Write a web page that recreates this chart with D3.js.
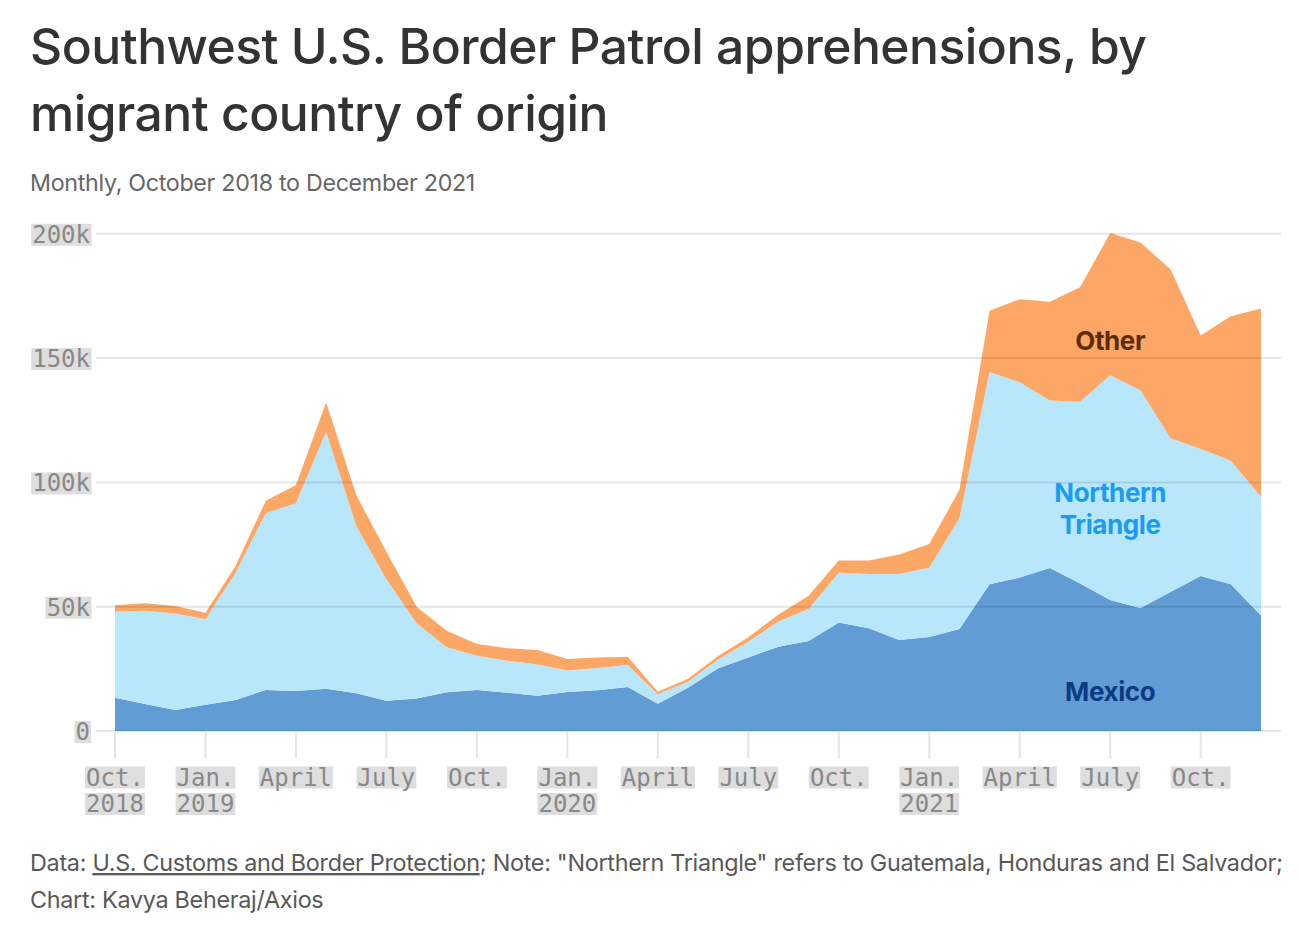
<!DOCTYPE html>
<html>
<head>
<meta charset="utf-8">
<script src="https://cdn.jsdelivr.net/npm/d3@7"></script>
<style>
  html, body { margin: 0; padding: 0; background: #fff; }
  svg { display: block; }
</style>
</head>
<body>
<svg id="chart" width="1298" height="946"></svg>
<script>
// ---------- DATA (thousands of apprehensions) ----------
const months = [
  "2018-10","2018-11","2018-12","2019-01","2019-02","2019-03","2019-04","2019-05","2019-06","2019-07","2019-08","2019-09",
  "2019-10","2019-11","2019-12","2020-01","2020-02","2020-03","2020-04","2020-05","2020-06","2020-07","2020-08","2020-09",
  "2020-10","2020-11","2020-12","2021-01","2021-02","2021-03","2021-04","2021-05","2021-06","2021-07","2021-08","2021-09",
  "2021-10","2021-11","2021-12"
];
const mexico = [13.4,10.9,8.4,10.6,12.5,16.5,16.1,17.0,15.2,12.2,13.1,15.6,
  16.5,15.4,14.2,15.7,16.4,17.7,11.0,17.4,25.2,29.6,33.9,36.2,
  43.6,41.3,36.6,37.8,41.0,59.0,61.7,65.6,59.3,52.7,49.5,55.9,
  62.3,59.0,46.5];
const northernTriangle = [34.6,37.5,38.9,34.4,51.2,71.1,75.5,103.4,67.3,48.8,30.2,18.1,
  13.8,12.9,12.6,8.6,8.9,8.8,3.8,2.4,3.6,6.3,10.1,12.9,
  20.1,21.9,26.6,27.9,44.6,85.4,78.6,67.3,73.1,90.4,87.6,61.9,
  51.1,49.7,47.6];
const other = [2.6,3.0,3.0,2.6,2.8,5.0,7.4,11.7,12.4,11.1,6.7,6.6,
  4.7,5.0,5.8,4.7,4.3,3.4,1.0,1.2,1.4,1.8,2.9,5.3,
  4.9,5.4,7.8,9.5,11.4,24.6,33.4,39.8,46.1,57.2,59.4,67.9,
  45.7,58.1,75.9];
const seriesKeys = ["Mexico","Northern Triangle","Other"];
const yTickValues = [0,50,100,150,200];
const yTickLabels = ["0","50k","100k","150k","200k"];
const xTickMonths = ["2018-10","2019-01","2019-04","2019-07","2019-10","2020-01","2020-04","2020-07","2020-10","2021-01","2021-04","2021-07","2021-10"];
const xTickLine1 = ["Oct.","Jan.","April","July","Oct.","Jan.","April","July","Oct.","Jan.","April","July","Oct."];
const xTickLine2 = ["2018","2019","","","","2020","","","","2021","","",""];

// ---------- STYLE ----------
const colors = {"Mexico":"#619dd4","Northern Triangle":"#b8e7fc","Other":"#fda767"};
const labelColors = {"Mexico":"#0c3a85","Northern Triangle":"#1a9cf6","Other":"#5c2d00"};
const sans = "Inter, 'Noto Sans', Roboto, sans-serif";
const mono = "'DejaVu Sans Mono', 'Liberation Mono', monospace";

const svg = d3.select("#chart");

const table = months.map((m, i) => ({
  month: m,
  "Mexico": mexico[i],
  "Northern Triangle": northernTriangle[i],
  "Other": other[i]
}));

const x = d3.scalePoint().domain(months).range([115, 1261]);
const y = d3.scaleLinear().domain([0, 200]).range([731, 233.8]);

const stack = d3.stack().keys(seriesKeys);
const layers = stack(table);

const area = d3.area()
  .x(d => x(d.data.month))
  .y0(d => y(d[0]))
  .y1(d => y(d[1]))
  .curve(d3.curveLinear);

// helper to fit text to a width
function fit(sel, target) {
  const node = sel.node();
  const fs = parseFloat(sel.attr("font-size"));
  const w = node.getComputedTextLength();
  sel.attr("font-size", fs * target / w);
}

// ---------- TITLE ----------
const t1 = svg.append("text").attr("x", 30).attr("y", 64)
  .attr("font-family", sans).attr("font-weight", 500).attr("font-size", 46)
  .attr("fill", "#333").attr("letter-spacing", "-0.5")
  .text("Southwest U.S. Border Patrol apprehensions, by");
fit(t1, 1115);
const t2 = svg.append("text").attr("x", 30).attr("y", 131)
  .attr("font-family", sans).attr("font-weight", 500).attr("font-size", t1.attr("font-size"))
  .attr("fill", "#333").attr("letter-spacing", "-0.5")
  .text("migrant country of origin");

const sub = svg.append("text").attr("x", 30).attr("y", 191)
  .attr("font-family", sans).attr("font-size", 21).attr("fill", "#666")
  .attr("letter-spacing", "-0.3")
  .text("Monthly, October 2018 to December 2021");
fit(sub, 444);

// ---------- AREAS ----------
svg.append("g").selectAll("path")
  .data(layers)
  .join("path")
  .attr("d", area)
  .attr("fill", d => colors[d.key]);

// ---------- GRID ----------
const grid = svg.append("g");
grid.selectAll("line").data(yTickValues).join("line")
  .attr("x1", 96).attr("x2", 1281)
  .attr("y1", d => y(d)).attr("y2", d => y(d))
  .attr("stroke", "rgba(0,0,0,0.1)").attr("stroke-width", 2);

// x ticks
svg.append("g").selectAll("line").data(xTickMonths).join("line")
  .attr("x1", d => x(d)).attr("x2", d => x(d))
  .attr("y1", 732).attr("y2", 758)
  .attr("stroke", "#e5e5e5").attr("stroke-width", 2);

// tick labels with backgrounds
function labelWithBg(g, xPos, yPos, txt, anchor) {
  const t = g.append("text").attr("x", xPos).attr("y", yPos)
    .attr("font-family", mono).attr("font-size", 24)
    .attr("text-anchor", anchor).attr("dominant-baseline", "central")
    .attr("fill", "#888").text(txt);
  const b = t.node().getBBox();
  g.insert("rect", "text")
    .attr("x", b.x - 1).attr("y", yPos - 11)
    .attr("width", b.width + 2).attr("height", 22)
    .attr("fill", "#dedede");
}

const yAxisG = svg.append("g");
yTickValues.forEach((v, i) => {
  const g = yAxisG.append("g");
  labelWithBg(g, 90, y(v) + 1, yTickLabels[i], "end");
});

const xAxisG = svg.append("g");
xTickMonths.forEach((m, i) => {
  const g = xAxisG.append("g");
  labelWithBg(g, x(m), 777.5, xTickLine1[i], "middle");
  if (xTickLine2[i]) {
    const g2 = xAxisG.append("g");
    labelWithBg(g2, x(m), 804, xTickLine2[i], "middle");
  }
});

// ---------- SERIES LABELS ----------
const labelG = svg.append("g").attr("font-family", sans).attr("font-weight", 700)
  .attr("font-size", 26).attr("text-anchor", "middle").attr("letter-spacing", "-0.4");
labelG.append("text").attr("x", x("2021-07")).attr("y", y(153.3))
  .attr("fill", labelColors["Other"]).text("Other");
labelG.append("text").attr("x", x("2021-07")).attr("y", y(92.0))
  .attr("fill", labelColors["Northern Triangle"]).text("Northern");
labelG.append("text").attr("x", x("2021-07")).attr("y", y(79.3))
  .attr("fill", labelColors["Northern Triangle"]).text("Triangle");
labelG.append("text").attr("x", x("2021-07")).attr("y", y(12.2))
  .attr("fill", labelColors["Mexico"]).text("Mexico");

// ---------- FOOTER ----------
const f1 = svg.append("text").attr("x", 30).attr("y", 871)
  .attr("font-family", sans).attr("font-size", 20).attr("fill", "#585858")
  .attr("letter-spacing", "-0.3");
f1.append("tspan").text("Data: ");
f1.append("tspan").attr("text-decoration", "underline").text("U.S. Customs and Border Protection");
f1.append("tspan").text("; Note: \"Northern Triangle\" refers to Guatemala, Honduras and El Salvador;");
fit(f1, 1248);
svg.append("text").attr("x", 30).attr("y", 908)
  .attr("font-family", sans).attr("font-size", f1.attr("font-size")).attr("fill", "#585858")
  .attr("letter-spacing", "-0.3")
  .text("Chart: Kavya Beheraj/Axios");
</script>
</body>
</html>
